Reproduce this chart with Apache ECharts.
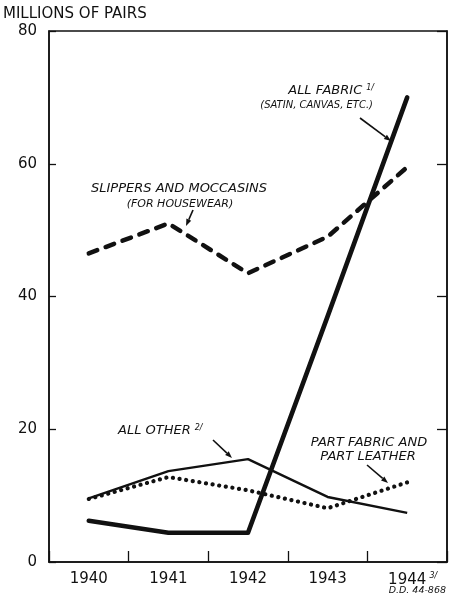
<!DOCTYPE html>
<html><head><meta charset="utf-8">
<script src="https://cdn.jsdelivr.net/npm/echarts@6/dist/echarts.min.js"></script>
<style>html,body{margin:0;padding:0;background:#fff}#c{width:455px;height:595px}</style>
</head><body><div id="c"></div>
<script>
const years = ['1940', '1941', '1942', '1943', '1944'];
const allFabric = [6.2, 4.4, 4.4, 37, 70];
const slippers = [46.5, 51, 43.5, 49, 59.5];
const allOther = [9.6, 13.7, 15.5, 9.8, 7.4];
const partFabric = [9.5, 12.8, 10.8, 8.1, 12];
const yMin = 0, yMax = 80, yStep = 20;

const INK = '#111';
const FONT = "'DejaVu Sans', sans-serif";

function arrow(x1, y1, x2, y2) {
  const a = Math.atan2(y2 - y1, x2 - x1), L = 7, W = 2.6;
  const bx = x2 - L * Math.cos(a), by = y2 - L * Math.sin(a);
  const px = -Math.sin(a) * W, py = Math.cos(a) * W;
  return [
    { type: 'line', shape: { x1: x1, y1: y1, x2: bx, y2: by }, style: { stroke: INK, lineWidth: 1.6 } },
    { type: 'polygon', shape: { points: [[x2, y2], [bx + px, by + py], [bx - px, by - py]] }, style: { fill: INK } }
  ];
}
function txt(x, y, t, size, align, italic) {
  return { type: 'text', x: x, y: y, style: { text: t, fill: INK, align: align || 'center', verticalAlign: 'middle',
    font: (italic ? 'italic ' : '') + size + 'px ' + FONT } };
}
function noted(x, y, t, note, size, align) {
  return { type: 'text', x: x, y: y, style: {
    text: '{m|' + t + '}{s|' + note + '}', align: align || 'left', verticalAlign: 'middle',
    rich: {
      m: { fontSize: size, fontStyle: 'italic', fontFamily: FONT, fill: INK, color: INK },
      s: { fontSize: 8, fontStyle: 'italic', fontFamily: FONT, fill: INK, color: INK, padding: [0, 0, 7, 4] }
    } } };
}

const chart = echarts.init(document.getElementById('c'), null, { renderer: 'canvas' });
const axisLine = { show: true, lineStyle: { color: INK, width: 1.5 } };
chart.setOption({
  animation: false,
  backgroundColor: '#fff',
  grid: { left: 49, top: 31, width: 398, height: 531, show: true, borderColor: INK, borderWidth: 1.5, containLabel: false },
  xAxis: {
    type: 'category', data: years, boundaryGap: true,
    axisLine: axisLine,
    axisTick: { show: true, inside: true, length: 11, interval: 0, lineStyle: { color: INK, width: 1.3 } },
    axisLabel: { interval: 0, margin: 10, color: INK, fontFamily: FONT, fontSize: 15,
      formatter: function (v, i) { return i === years.length - 1 ? '{p|}' + v + '{s|3/}' : v; },
      rich: { p: { width: 12 }, s: { fontSize: 8, fontStyle: 'italic', fontFamily: FONT, color: INK, padding: [0, 0, 8, 2], width: 10 } } },
    splitLine: { show: false }
  },
  yAxis: [
    { type: 'value', min: yMin, max: yMax, interval: yStep, position: 'left',
      axisLine: axisLine,
      axisTick: { show: true, inside: true, length: 7, lineStyle: { color: INK, width: 1.3 } },
      axisLabel: { margin: 12, color: INK, fontFamily: FONT, fontSize: 15 },
      splitLine: { show: false } },
    { type: 'value', min: yMin, max: yMax, interval: yStep, position: 'right',
      axisLine: axisLine,
      axisTick: { show: true, inside: true, length: 10, lineStyle: { color: INK, width: 1.3 } },
      axisLabel: { show: false }, splitLine: { show: false } }
  ],
  series: [
    { name: 'Slippers and moccasins', type: 'line', data: slippers, symbol: 'none',
      lineStyle: { color: INK, width: 4.5, type: [9, 9], cap: 'round', join: 'round' } },
    { name: 'All other', type: 'line', data: allOther, symbol: 'none',
      lineStyle: { color: INK, width: 2.4, join: 'round' } },
    { name: 'Part fabric and part leather', type: 'line', data: partFabric, symbol: 'none',
      lineStyle: { color: INK, width: 4.2, type: [0.1, 6.6], cap: 'round' } },
    { name: 'All fabric', type: 'line', data: allFabric, symbol: 'none',
      lineStyle: { color: INK, width: 4.6, join: 'round', cap: 'round' } }
  ],
  graphic: [
    txt(3, 14, 'MILLIONS OF PAIRS', 15, 'left', false),
    noted(374, 91, 'ALL FABRIC', '1/', 13, 'right'),
    txt(373, 105, '(SATIN, CANVAS, ETC.)', 10, 'right', true),
    txt(179, 189, 'SLIPPERS AND MOCCASINS', 13, 'center', true),
    txt(180, 204, '(FOR HOUSEWEAR)', 11, 'center', true),
    noted(118, 431, 'ALL OTHER', '2/', 13, 'left'),
    txt(369, 443, 'PART FABRIC AND', 13, 'center', true),
    txt(368, 457, 'PART LEATHER', 13, 'center', true),
    txt(446, 591, 'D.D. 44-868', 9.5, 'right', true)
  ].concat(arrow(360, 118, 391, 141), arrow(193, 210, 186, 226), arrow(213, 440, 232, 458), arrow(367, 465, 388, 483))
});
</script></body></html>
